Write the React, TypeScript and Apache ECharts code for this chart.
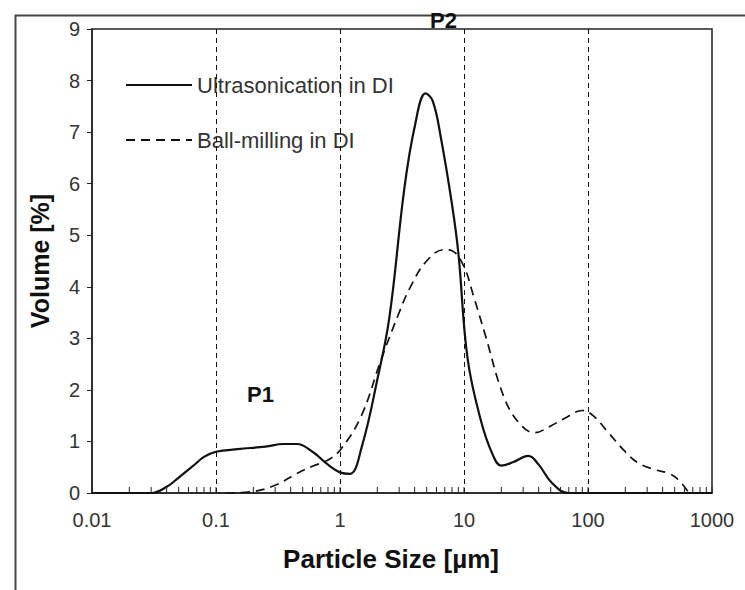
import React, { useEffect, useRef } from "react";
import * as echarts from "echarts";

const xTickLabels = ["0.01", "0.1", "1", "10", "100", "1000"];
const yTicks = [0, 1, 2, 3, 4, 5, 6, 7, 8, 9];
const decadeLines = [0.1, 1, 10, 100];
const minorMultipliers = [1, 2, 3, 4, 5, 6, 7, 8, 9];
const decadeStarts = [0.01, 0.1, 1, 10, 100];

const ultraSizes = [0.01, 0.02, 0.03, 0.04, 0.05, 0.065, 0.08, 0.1, 0.15, 0.25, 0.35, 0.45, 0.6, 0.8, 1.0, 1.2, 1.5, 2.0, 2.5, 3.3, 4.0, 4.9, 5.6, 6.5, 8, 9, 10.7, 13.7, 17, 20, 25, 33, 40, 51, 70, 1000];
const ultraValues = [0, 0, 0, 0.12, 0.3, 0.52, 0.7, 0.8, 0.85, 0.9, 0.95, 0.95, 0.8, 0.55, 0.4, 0.37, 0.9, 2.2, 3.4, 5.9, 7.1, 7.75, 7.6, 6.9, 5.6, 4.66, 2.6, 1.4, 0.75, 0.53, 0.6, 0.72, 0.55, 0.2, 0, 0];

const ballSizes = [0.12, 0.2, 0.3, 0.45, 0.6, 0.8, 1.0, 1.47, 2.14, 3.0, 3.7, 5, 6.9, 8, 10, 12, 14.7, 21, 28, 37, 50, 65, 90, 110, 146, 200, 255, 350, 450, 540, 650];
const ballValues = [0, 0.03, 0.15, 0.38, 0.52, 0.64, 0.83, 1.47, 2.58, 3.5, 4.0, 4.5, 4.72, 4.7, 4.39, 3.8, 3.1, 1.86, 1.35, 1.17, 1.3, 1.45, 1.6, 1.5, 1.17, 0.8, 0.58, 0.45, 0.38, 0.25, 0];

const FONT = "Liberation Sans, Arial, sans-serif";

export default function App() {
  const ref = useRef<HTMLDivElement>(null);
  useEffect(() => {
    const chart = echarts.init(ref.current!, null, { renderer: "svg" });
    const minorTicks: number[][] = [];
    decadeStarts.forEach((d) => minorMultipliers.forEach((m) => minorTicks.push([d * m, 0])));
    minorTicks.push([1000, 0]);
    chart.setOption({
      animation: false,
      backgroundColor: "#fff",
      grid: { left: 92, right: 33, top: 29, bottom: 97, show: true, borderColor: "#222", borderWidth: 1.5, backgroundColor: "transparent" },
      legend: {
        orient: "vertical",
        left: 120,
        top: 69,
        itemWidth: 66,
        itemHeight: 14,
        itemGap: 33,
        itemStyle: { opacity: 0 },
        textStyle: { fontSize: 22, color: "#333", fontFamily: FONT },
        data: ["Ultrasonication in DI", "Ball-milling in DI"],
      },
      xAxis: {
        type: "log",
        logBase: 10,
        min: 0.01,
        max: 1000,
        name: "Particle Size [µm]",
        nameLocation: "middle",
        nameGap: 53,
        nameTextStyle: { fontSize: 26, fontWeight: "bold", color: "#111", fontFamily: FONT, padding: [0, 22, 0, 0] },
        axisLine: { lineStyle: { color: "#222", width: 1.5 } },
        axisTick: { show: false },
        axisLabel: {
          fontSize: 20,
          color: "#333",
          fontFamily: FONT,
          margin: 17,
          formatter: (v: number) => xTickLabels[Math.round(Math.log10(v)) + 2] ?? "",
        },
        splitLine: { show: false },
      },
      yAxis: {
        type: "value",
        min: 0,
        max: 9,
        interval: 1,
        name: "Volume [%]",
        nameLocation: "middle",
        nameGap: 40,
        nameTextStyle: { fontSize: 25, fontWeight: "bold", color: "#111", fontFamily: FONT },
        axisLine: { show: true, lineStyle: { color: "#222", width: 1.5 } },
        axisTick: { show: true, length: 5, lineStyle: { color: "#222" } },
        axisLabel: {
          fontSize: 20,
          color: "#333",
          fontFamily: FONT,
          margin: 12,
          formatter: (v: number) => (yTicks.includes(v) ? String(v) : ""),
        },
        splitLine: { show: false },
      },
      series: [
        {
          name: "Ultrasonication in DI",
          type: "line",
          smooth: 0.4,
          symbol: "none",
          data: ultraSizes.map((s, i) => [s, ultraValues[i]]),
          lineStyle: { color: "#111", width: 2.2 },
          itemStyle: { color: "#111" },
          z: 5,
          markLine: {
            silent: true,
            symbol: "none",
            label: { show: false },
            lineStyle: { color: "#111", type: [5, 4], width: 1 },
            data: decadeLines.map((x) => ({ xAxis: x })),
          },
        },
        {
          name: "Ball-milling in DI",
          type: "line",
          smooth: 0.4,
          symbol: "none",
          data: ballSizes.map((s, i) => [s, ballValues[i]]),
          lineStyle: { color: "#111", width: 1.7, type: [9, 6] },
          itemStyle: { color: "#111" },
          z: 4,
        },
        {
          type: "custom",
          silent: true,
          data: minorTicks,
          renderItem: (params: any, api: any) => {
            const p = api.coord([api.value(0), 0]);
            return {
              type: "line",
              shape: { x1: p[0], y1: p[1], x2: p[0], y2: p[1] - 6 },
              style: { stroke: "#222", lineWidth: 1 },
            };
          },
          z: 6,
        },
      ],
      graphic: [
        { type: "rect", left: 13, top: 13, shape: { width: 900, height: 800 }, style: { fill: "none", stroke: "#444", lineWidth: 2 }, silent: true },
        { type: "text", left: 430, top: 9, style: { text: "P2", fontSize: 22, fontWeight: "bold", fill: "#111", fontFamily: FONT } },
        { type: "text", left: 247, top: 383, style: { text: "P1", fontSize: 22, fontWeight: "bold", fill: "#111", fontFamily: FONT } },
      ],
    });
    return () => chart.dispose();
  }, []);
  return <div ref={ref} style={{ position: "absolute", left: 0, top: 0, width: 745, height: 590 }} />;
}
